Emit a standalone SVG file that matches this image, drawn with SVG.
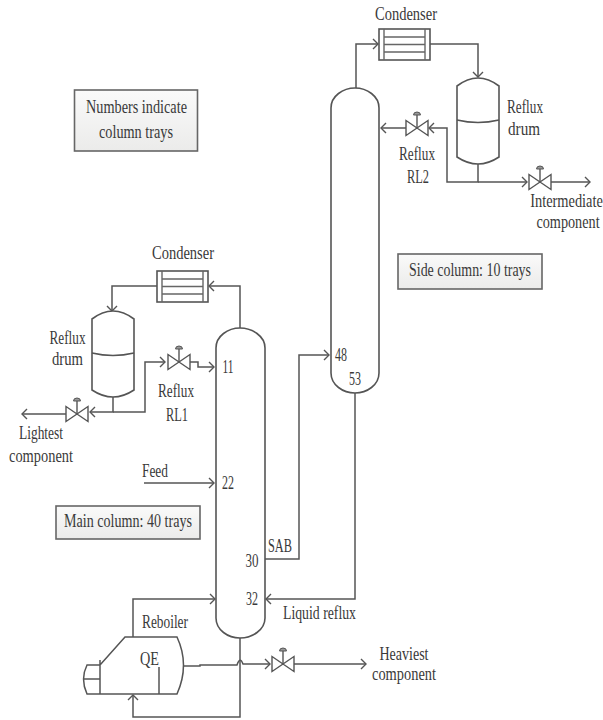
<svg xmlns="http://www.w3.org/2000/svg" width="603" height="720" viewBox="0 0 603 720">
<defs>
<linearGradient id="g" x1="0" y1="0" x2="0" y2="1"><stop offset="0" stop-color="#fafafa"/><stop offset="1" stop-color="#ebebea"/></linearGradient>
<marker id="a" markerWidth="12" markerHeight="14" refX="9" refY="6" orient="auto" markerUnits="userSpaceOnUse"><path d="M4 1L9 6L4 11" fill="none" stroke="#555" stroke-width="1.4"/></marker>
<g id="valve"><path d="M-11 -7.500L11 7.500V-7.500L-11 7.500Z" fill="#fff" stroke="#555" stroke-width="1.4"/><path d="M0 0V-13" stroke="#555" stroke-width="1.4"/><path d="M-3.500 -13A3.500 3 0 0 1 3.500 -13Z" fill="#999" stroke="#555"/></g>
<g id="cond"><rect x="0" y="0" width="51" height="31" fill="#fff" stroke="#555" stroke-width="1.6"/><path d="M5 0V31M46 0V31M5 8H46M5 15.500H46M5 23H46" stroke="#666" stroke-width="1.4" fill="none"/></g>
<g id="drum"><path d="M0 8Q21 -8 42 8V79Q21 93 0 79Z" fill="#fff" stroke="#555" stroke-width="1.6"/><path d="M0 42Q21 47 42 42" fill="none" stroke="#555" stroke-width="1.6"/></g>
</defs>
<style>
text{font-family:"Liberation Serif",serif;font-size:18px;fill:#3a3a3a;text-anchor:middle}
.c{fill:none;stroke:#555;stroke-width:1.5}
.b{fill:url(#g);stroke:#666;stroke-width:1.6}
</style>
<rect width="603" height="720" fill="#fff"/>
<g id="connectors">
<path class="c" d="M356 88V44H378" marker-end="url(#a)"/>
<path class="c" d="M430 44H478V77" marker-end="url(#a)"/>
<path class="c" d="M478 163V182H447V128H429" marker-end="url(#a)"/>
<path class="c" d="M406 128H381" marker-end="url(#a)"/>
<path class="c" d="M478 182H527" marker-end="url(#a)"/>
<path class="c" d="M551 182H590" marker-end="url(#a)"/>
<path class="c" d="M240 328V286H209" marker-end="url(#a)"/>
<path class="c" d="M157 286H112V311" marker-end="url(#a)"/>
<path class="c" d="M113 397V412H90" marker-end="url(#a)"/>
<path class="c" d="M113 412H145V362H165" marker-end="url(#a)"/>
<path class="c" d="M190 362H198V367H214" marker-end="url(#a)"/>
<path class="c" d="M67 414H22" marker-end="url(#a)"/>
<path class="c" d="M144 483H214" marker-end="url(#a)"/>
<path class="c" d="M265 559H299V355H329" marker-end="url(#a)"/>
<path class="c" d="M355 393V599H266" marker-end="url(#a)"/>
<path class="c" d="M133 637V599H215" marker-end="url(#a)"/>
<path class="c" d="M240 638V717H133V695" marker-end="url(#a)"/>
<path class="c" d="M184 666H200V665H237Q240 656 243 664H270" marker-end="url(#a)"/>
<path class="c" d="M294 664H366" marker-end="url(#a)"/>
</g>
<g id="side-column"><path d="M331 108C331 96 343 88 355 88S379 96 379 108V373C379 385 367 393 355 393S331 385 331 373Z" fill="none" stroke="#555" stroke-width="1.6"/><text x="341" y="361" textLength="12" lengthAdjust="spacingAndGlyphs">48</text><text x="355" y="385" textLength="12" lengthAdjust="spacingAndGlyphs">53</text></g>
<g id="main-column"><path d="M216 348C216 336 228 328 240 328S265 336 265 348V618C265 630 252 638 240 638S216 630 216 618Z" fill="none" stroke="#555" stroke-width="1.6"/><text x="228" y="373" textLength="11" lengthAdjust="spacingAndGlyphs">11</text><text x="228" y="489" textLength="12" lengthAdjust="spacingAndGlyphs">22</text><text x="252" y="567" textLength="13" lengthAdjust="spacingAndGlyphs">30</text><text x="252" y="605" textLength="12" lengthAdjust="spacingAndGlyphs">32</text></g>
<g id="condenser-2"><use href="#cond" x="379" y="29"/><text x="406" y="20" textLength="62" lengthAdjust="spacingAndGlyphs">Condenser</text></g>
<g id="drum-2"><use href="#drum" x="457" y="78"/><text x="525" y="113" textLength="36" lengthAdjust="spacingAndGlyphs">Reflux</text><text x="524" y="135" textLength="32" lengthAdjust="spacingAndGlyphs">drum</text></g>
<g id="valve-rl2"><use href="#valve" x="417" y="128"/><text x="417" y="160" textLength="36" lengthAdjust="spacingAndGlyphs">Reflux</text><text x="418" y="183" textLength="22" lengthAdjust="spacingAndGlyphs">RL2</text></g>
<g id="valve-int"><use href="#valve" x="540" y="182"/><text transform="translate(566.500 207) scale(.8 1)">Intermediate</text><text transform="translate(568 228) scale(.79 1)">component</text></g>
<g id="condenser-1"><use href="#cond" x="157" y="271"/><text x="183" y="259" textLength="62" lengthAdjust="spacingAndGlyphs">Condenser</text></g>
<g id="drum-1"><use href="#drum" x="92" y="311"/><text x="67.500" y="344" textLength="36" lengthAdjust="spacingAndGlyphs">Reflux</text><text x="67.500" y="365" textLength="31" lengthAdjust="spacingAndGlyphs">drum</text></g>
<g id="valve-rl1"><use href="#valve" x="179" y="362"/><text x="176" y="397" textLength="36" lengthAdjust="spacingAndGlyphs">Reflux</text><text x="177" y="421" textLength="22" lengthAdjust="spacingAndGlyphs">RL1</text></g>
<g id="valve-light"><use href="#valve" x="77" y="414"/><text x="41" y="439" textLength="44" lengthAdjust="spacingAndGlyphs">Lightest</text><text x="41" y="462" textLength="64" lengthAdjust="spacingAndGlyphs">component</text></g>
<g id="valve-heavy"><use href="#valve" x="283" y="664"/><text x="404" y="660" textLength="49" lengthAdjust="spacingAndGlyphs">Heaviest</text><text x="404" y="680" textLength="64" lengthAdjust="spacingAndGlyphs">component</text></g>
<g id="reboiler"><path d="M100 665L125 637H177Q190 665 177 694H100V660M100 665H87Q80 679 87 694H100M83 679H100M159 667V694" fill="#fff" stroke="#555" stroke-width="1.5"/><text x="165" y="628" textLength="46" lengthAdjust="spacingAndGlyphs">Reboiler</text><text x="149.500" y="665" textLength="19" lengthAdjust="spacingAndGlyphs">QE</text></g>
<g id="labels"><text x="155" y="477" textLength="26" lengthAdjust="spacingAndGlyphs">Feed</text><text x="280" y="552" textLength="24" lengthAdjust="spacingAndGlyphs">SAB</text><text x="319.500" y="619" textLength="73" lengthAdjust="spacingAndGlyphs">Liquid reflux</text></g>
<g id="note-trays"><rect class="b" x="74.500" y="90" width="123" height="61"/><text x="136.500" y="113" textLength="101" lengthAdjust="spacingAndGlyphs">Numbers indicate</text><text x="136" y="138" textLength="74" lengthAdjust="spacingAndGlyphs">column trays</text></g>
<g id="note-main"><rect class="b" x="56" y="506" width="144" height="33"/><text x="128" y="527" textLength="128" lengthAdjust="spacingAndGlyphs">Main column: 40 trays</text></g>
<g id="note-side"><rect class="b" x="398" y="254" width="144" height="35"/><text x="470" y="276" textLength="122" lengthAdjust="spacingAndGlyphs">Side column: 10 trays</text></g>
</svg>
